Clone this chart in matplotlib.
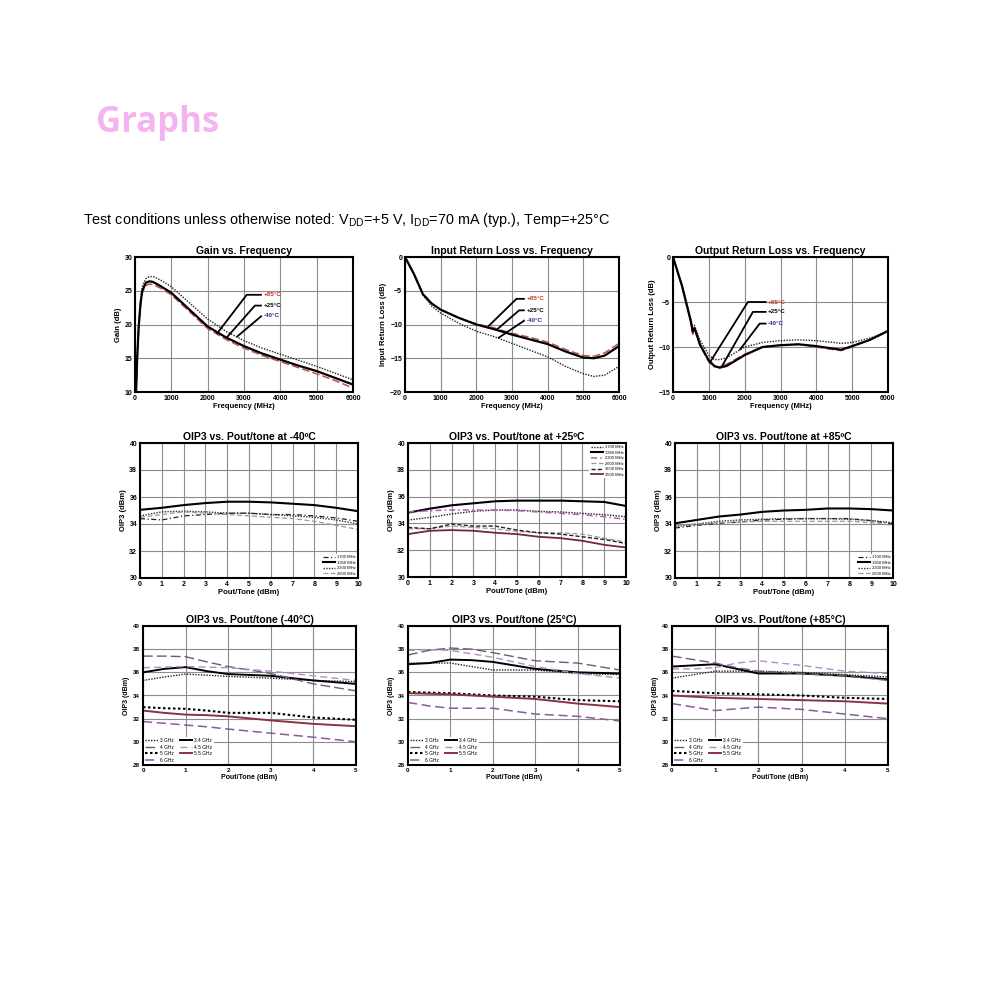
import numpy as np
import matplotlib
matplotlib.use("Agg")
import matplotlib.pyplot as plt

plt.rcParams['font.family'] = ['Liberation Sans', 'DejaVu Sans']

W = H = 1001.0

# ---------------- data: gain / return loss vs frequency ----------------
gain_freq = [30, 60, 100, 150, 200, 300, 400, 500, 700, 1000, 1500, 2000, 2500,
             3000, 3500, 4000, 4500, 5000, 5500, 6000]
gain_p25 = [10.0, 15.0, 19.5, 23.0, 25.0, 26.2, 26.4, 26.3, 25.7, 24.7, 22.2, 19.7,
            18.1, 16.8, 15.7, 14.8, 13.9, 13.1, 12.1, 11.1]
gain_p85 = [10.0, 14.8, 19.2, 22.7, 24.7, 25.8, 26.0, 25.9, 25.4, 24.4, 21.9, 19.4,
            17.8, 16.5, 15.4, 14.5, 13.6, 12.7, 11.7, 10.6]
gain_m40 = [10.0, 15.3, 20.0, 23.6, 25.6, 26.8, 27.1, 27.1, 26.6, 25.6, 23.2, 20.8,
            19.0, 17.6, 16.5, 15.6, 14.7, 13.8, 12.8, 11.8]

irl_freq = [0, 250, 500, 750, 1000, 1500, 2000, 2500, 3000, 3500, 4000, 4500,
            5000, 5300, 5600, 6000]
irl_p25 = [0, -2.5, -5.5, -6.9, -7.8, -9.0, -10.0, -10.7, -11.5, -12.2, -12.9,
           -14.0, -14.9, -15.0, -14.6, -13.2]
irl_p85 = [0, -2.5, -5.5, -6.9, -7.8, -9.0, -9.9, -10.5, -11.3, -11.9, -12.6,
           -13.7, -14.6, -14.7, -14.2, -12.8]
irl_m40 = [0, -2.6, -5.6, -7.3, -8.3, -9.8, -11.0, -11.8, -12.8, -13.8, -14.8,
           -16.2, -17.3, -17.7, -17.5, -16.2]

orl_freq = [0, 250, 500, 550, 600, 750, 1000, 1150, 1300, 1500, 2000, 2500, 3000,
            3500, 4000, 4500, 4700, 5000, 5500, 6000]
orl_p25 = [0, -3.2, -7.2, -8.3, -7.9, -9.7, -11.5, -12.1, -12.3, -12.1, -10.9,
           -10.0, -9.8, -9.7, -9.9, -10.2, -10.3, -9.9, -9.2, -8.2]
orl_p85 = [0, -3.2, -7.2, -8.6, -8.0, -9.8, -11.7, -12.2, -12.2, -11.9, -10.8,
           -10.0, -9.8, -9.7, -10.0, -10.3, -10.4, -10.0, -9.2, -8.3]
orl_m40 = [0, -3.0, -6.9, -7.8, -7.6, -9.2, -10.9, -11.4, -11.4, -11.2, -10.0,
           -9.5, -9.3, -9.2, -9.3, -9.5, -9.6, -9.5, -9.0, -8.3]

temp_labels = ["+85°C", "+25°C", "-40°C"]

# ---------------- data: OIP3 vs Pout/tone (0..10 dBm) ----------------
pout10 = [0, 1, 2, 3, 4, 5, 6, 7, 8, 9, 10]
band_labels4 = ["1700 MHz", "1950 MHz", "2300 MHz", "2600 MHz"]
oip_m40 = {
    "1700 MHz": [34.4, 34.3, 34.6, 34.7, 34.8, 34.8, 34.7, 34.7, 34.6, 34.45, 34.2],
    "1950 MHz": [35.05, 35.2, 35.4, 35.55, 35.65, 35.65, 35.6, 35.5, 35.4, 35.2, 34.95],
    "2300 MHz": [34.6, 34.9, 34.95, 34.9, 34.8, 34.8, 34.7, 34.6, 34.5, 34.3, 34.0],
    "2600 MHz": [34.5, 34.7, 34.9, 34.8, 34.7, 34.6, 34.5, 34.4, 34.2, 33.9, 33.6],
}
oip_p85 = {
    "1700 MHz": [33.7, 33.9, 34.05, 34.15, 34.3, 34.35, 34.4, 34.4, 34.4, 34.25, 34.0],
    "1950 MHz": [34.05, 34.3, 34.55, 34.7, 34.9, 35.0, 35.05, 35.15, 35.15, 35.1, 35.0],
    "2300 MHz": [33.8, 34.0, 34.2, 34.3, 34.35, 34.4, 34.4, 34.4, 34.35, 34.25, 34.1],
    "2600 MHz": [33.9, 34.0, 34.1, 34.15, 34.2, 34.2, 34.2, 34.2, 34.2, 34.1, 33.9],
}
band_labels6 = ["1700 MHz", "1950 MHz", "2300 MHz", "2600 MHz", "3000 MHz", "3500 MHz"]
oip_p25 = {
    "1700 MHz": [34.25, 34.45, 34.7, 34.9, 35.0, 35.0, 34.9, 34.85, 34.75, 34.65, 34.5],
    "1950 MHz": [34.8, 35.1, 35.35, 35.5, 35.65, 35.7, 35.7, 35.7, 35.65, 35.6, 35.3],
    "2300 MHz": [34.85, 34.95, 35.0, 35.0, 35.0, 34.95, 34.85, 34.75, 34.65, 34.5, 34.3],
    "2600 MHz": [33.6, 33.6, 33.8, 33.7, 33.6, 33.4, 33.3, 33.3, 33.2, 32.9, 32.6],
    "3000 MHz": [33.7, 33.6, 33.95, 33.8, 33.8, 33.5, 33.3, 33.2, 33.0, 32.8, 32.5],
    "3500 MHz": [33.2, 33.45, 33.5, 33.45, 33.3, 33.2, 33.0, 32.9, 32.7, 32.4, 32.2],
}

# ---------------- data: OIP3 vs Pout/tone (0..5 dBm) ----------------
pout5 = [0, 0.5, 1, 1.5, 2, 3, 4, 5]
ghz_labels = ["3 GHz", "3.4 GHz", "4 GHz", "4.5 GHz", "5 GHz", "5.5 GHz", "6 GHz"]
oip5_m40 = {
    "3 GHz":   [35.3, 35.6, 35.85, 35.75, 35.65, 35.5, 35.3, 35.2],
    "3.4 GHz": [36.0, 36.3, 36.45, 36.1, 35.85, 35.7, 35.3, 35.0],
    "4 GHz":   [37.4, 37.4, 37.35, 36.9, 36.5, 35.9, 35.0, 34.4],
    "4.5 GHz": [36.4, 36.45, 36.5, 36.45, 36.4, 36.1, 35.7, 35.3],
    "5 GHz":   [33.0, 32.9, 32.85, 32.7, 32.5, 32.5, 32.1, 31.9],
    "5.5 GHz": [32.7, 32.5, 32.35, 32.3, 32.2, 31.85, 31.55, 31.35],
    "6 GHz":   [31.75, 31.6, 31.45, 31.3, 31.1, 30.75, 30.4, 30.0],
}
oip5_p25 = {
    "3 GHz":   [36.8, 36.8, 36.8, 36.5, 36.2, 36.2, 35.9, 35.8],
    "3.4 GHz": [36.7, 36.8, 37.1, 37.05, 36.9, 36.3, 36.0, 35.9],
    "4 GHz":   [37.5, 37.9, 38.1, 38.0, 37.7, 37.0, 36.8, 36.2],
    "4.5 GHz": [37.9, 37.95, 37.9, 37.6, 37.3, 36.5, 35.9, 35.5],
    "5 GHz":   [34.3, 34.25, 34.2, 34.1, 34.0, 33.9, 33.6, 33.5],
    "5.5 GHz": [34.2, 34.15, 34.1, 34.0, 33.9, 33.7, 33.3, 33.0],
    "6 GHz":   [33.4, 33.1, 32.9, 32.9, 32.9, 32.4, 32.2, 31.8],
}
oip5_p85 = {
    "3 GHz":   [35.5, 35.8, 36.1, 36.1, 36.1, 36.0, 35.8, 35.6],
    "3.4 GHz": [36.5, 36.6, 36.7, 36.3, 35.9, 35.9, 35.7, 35.4],
    "4 GHz":   [37.4, 37.1, 36.8, 36.4, 36.1, 35.9, 35.7, 35.3],
    "4.5 GHz": [36.3, 36.3, 36.4, 36.8, 37.0, 36.6, 36.1, 35.9],
    "5 GHz":   [34.4, 34.3, 34.2, 34.15, 34.1, 34.0, 33.8, 33.7],
    "5.5 GHz": [34.0, 33.9, 33.8, 33.75, 33.7, 33.6, 33.5, 33.3],
    "6 GHz":   [33.3, 33.0, 32.7, 32.85, 33.0, 32.8, 32.4, 32.0],
}

# ---------------- styles ----------------
TEMP_STYLE = {
    "+85°C": dict(color="#c0504d", ls=(0, (5, 2)), lw=1.1),
    "+25°C": dict(color="black", ls="-", lw=1.6),
    "-40°C": dict(color="#222222", ls=(0, (1, 1)), lw=1.0),
}
TEMP_TXT = {"+85°C": "#c0392b", "+25°C": "black", "-40°C": "#2b2b8c"}

BAND_STYLE = {
    "1700 MHz": dict(color="#222222", ls=(0, (4, 2, 1, 2)), lw=0.9),
    "1950 MHz": dict(color="black", ls="-", lw=1.5),
    "2300 MHz": dict(color="#333333", ls=(0, (1, 1)), lw=1.0),
    "2600 MHz": dict(color="#9a9a9a", ls=(0, (4, 2)), lw=0.9),
    "3000 MHz": dict(color="#222222", ls=(0, (3, 1.5)), lw=1.0),
    "3500 MHz": dict(color="#6e2a35", ls="-", lw=1.3),
}
BAND_STYLE_25 = dict(BAND_STYLE)
BAND_STYLE_25["1700 MHz"] = dict(color="#222222", ls=(0, (1, 1)), lw=1.0)
BAND_STYLE_25["2300 MHz"] = dict(color="#b060b0", ls=(0, (4, 2, 1, 2)), lw=1.1)

GHZ_STYLE = {
    "3 GHz":   dict(color="#222222", ls=(0, (1, 1)), lw=1.0),
    "3.4 GHz": dict(color="black", ls="-", lw=1.4),
    "4 GHz":   dict(color="#6a5a78", ls=(0, (7, 3)), lw=1.0),
    "4.5 GHz": dict(color="#b48cc4", ls=(0, (5, 3)), lw=1.0),
    "5 GHz":   dict(color="black", ls=(0, (1.2, 1.2)), lw=1.5),
    "5.5 GHz": dict(color="#8a3242", ls="-", lw=1.4),
    "6 GHz":   dict(color="#8a5a9c", ls=(0, (6, 3)), lw=1.1),
}


def box(l, t, r, b):
    return [l / W, 1 - b / H, (r - l) / W, (b - t) / H]


def style_axes(ax, title, xlabel, ylabel, tsize=7.5, lsize=5.5, ksize=5):
    ax.set_title(title, fontsize=tsize, fontweight="bold", pad=2)
    ax.set_xlabel(xlabel, fontsize=lsize, fontweight="bold", labelpad=1)
    ax.set_ylabel(ylabel, fontsize=lsize, fontweight="bold", labelpad=2)
    ax.tick_params(labelsize=ksize, length=0, pad=2)
    for lab in ax.get_xticklabels() + ax.get_yticklabels():
        lab.set_fontweight("bold")
    ax.grid(True, color="#8c8c8c", lw=0.8)
    ax.set_axisbelow(True)
    for s in ax.spines.values():
        s.set_linewidth(1.5)


def freq_plot(ax, freq, curves, ylim, yticks, title, ylabel, labels):
    for name, vals in curves.items():
        ax.plot(freq, vals, **TEMP_STYLE[name])
    ax.set_xlim(0, 6000)
    ax.set_ylim(*ylim)
    ax.set_xticks(range(0, 6001, 1000))
    ax.set_yticks(yticks)
    style_axes(ax, title, "Frequency (MHz)", ylabel)
    # leader lines from labels to curves
    for name, (xt, yt, xk, xtar) in labels.items():
        ytar = np.interp(xtar, freq, curves[name])
        ax.plot([xtar, xk, xt - 40], [ytar, yt, yt], color="black", lw=1.3,
                solid_capstyle="butt")
        ax.text(xt, yt, name, fontsize=4.5, color=TEMP_TXT[name], va="center",
                ha="left", fontweight="bold")


fig = plt.figure(figsize=(W / 100, H / 100), dpi=100)
fig.patch.set_facecolor("white")

fig.text(96 / W, 1 - 123 / H, "Graphs", fontsize=25, fontweight="bold",
         color="#f4b4ef", family=["Open Sans", "Lato", "DejaVu Sans"], va="center")
fig.text(83 / W, 1 - 220 / H,
         "Test conditions unless otherwise noted: V$_{\\mathregular{DD}}$=+5 V, "
         "I$_{\\mathregular{DD}}$=70 mA (typ.), Temp=+25°C",
         fontsize=10.4, va="center")

# row 1
ax = fig.add_axes(box(135, 257, 353, 392))
freq_plot(ax, gain_freq, {"+85°C": gain_p85, "-40°C": gain_m40, "+25°C": gain_p25},
          (10, 30), range(10, 31, 5), "Gain vs. Frequency", "Gain (dB)",
          {"+85°C": (3530, 24.4, 3075, 2250),
           "+25°C": (3530, 22.8, 3300, 2520),
           "-40°C": (3530, 21.3, 3490, 2800)})

ax = fig.add_axes(box(405, 257, 619, 392))
freq_plot(ax, irl_freq, {"+85°C": irl_p85, "-40°C": irl_m40, "+25°C": irl_p25},
          (-20, 0), range(-20, 1, 5), "Input Return Loss vs. Frequency",
          "Input Return Loss (dB)",
          {"+85°C": (3400, -6.2, 3125, 2330),
           "+25°C": (3400, -7.9, 3200, 2565),
           "-40°C": (3400, -9.4, 3350, 2610)})

ax = fig.add_axes(box(673, 257, 888, 392))
freq_plot(ax, orl_freq, {"+85°C": orl_p85, "-40°C": orl_m40, "+25°C": orl_p25},
          (-15, 0), range(-15, 1, 5), "Output Return Loss vs. Frequency",
          "Output Return Loss (dB)",
          {"+85°C": (2650, -5.0, 2090, 1020),
           "+25°C": (2650, -6.1, 2230, 1350),
           "-40°C": (2650, -7.4, 2420, 1860)})

# row 2
row2 = [
    (box(140, 443, 358, 578), oip_m40, band_labels4, BAND_STYLE,
     "OIP3 vs. Pout/tone at -40ºC", "lower right"),
    (box(408, 443, 626, 577), oip_p25, band_labels6, BAND_STYLE_25,
     "OIP3 vs. Pout/tone at +25ºC", "upper right"),
    (box(675, 443, 893, 578), oip_p85, band_labels4, BAND_STYLE,
     "OIP3 vs. Pout/tone at +85ºC", "lower right"),
]
for pos, data, names, sty, title, loc in row2:
    ax = fig.add_axes(pos)
    for n in names:
        ax.plot(pout10, data[n], label=n, **sty[n])
    ax.set_xlim(0, 10)
    ax.set_ylim(30, 40)
    ax.set_xticks(range(0, 11))
    ax.set_yticks(range(30, 41, 2))
    style_axes(ax, title, "Pout/Tone (dBm)", "OIP3 (dBm)")
    leg = ax.legend(loc=loc, fontsize=3, frameon=True, framealpha=1,
                    edgecolor="none", handlelength=3, labelspacing=0.35,
                    borderpad=0.4, handletextpad=0.4, borderaxespad=0.15)
    leg.get_frame().set_linewidth(0)

# row 3
row3 = [
    (box(143, 626, 356, 765), oip5_m40, "OIP3 vs. Pout/tone (-40°C)"),
    (box(408, 626, 620, 765), oip5_p25, "OIP3 vs. Pout/tone (25°C)"),
    (box(672, 626, 888, 765), oip5_p85, "OIP3 vs. Pout/tone (+85°C)"),
]
legend_order = ["3 GHz", "4 GHz", "5 GHz", "6 GHz", "3.4 GHz", "4.5 GHz", "5.5 GHz"]
for pos, data, title in row3:
    ax = fig.add_axes(pos)
    handles = {}
    for n in ghz_labels:
        handles[n], = ax.plot(pout5, data[n], label=n, **GHZ_STYLE[n])
    ax.set_xlim(0, 5)
    ax.set_ylim(28, 40)
    ax.set_xticks(range(0, 6))
    ax.set_yticks(range(28, 41, 2))
    style_axes(ax, title, "Pout/Tone (dBm)", "OIP3 (dBm)", lsize=5, ksize=4.5)
    ax.legend([handles[n] for n in legend_order], legend_order, loc="lower left",
              ncol=2, fontsize=3.5, frameon=True, framealpha=1, edgecolor="none",
              handlelength=2.5, labelspacing=0.3, columnspacing=1.2,
              borderpad=0.3, handletextpad=0.5, borderaxespad=0.2)

fig.savefig("out.png", dpi=100, facecolor="white")
